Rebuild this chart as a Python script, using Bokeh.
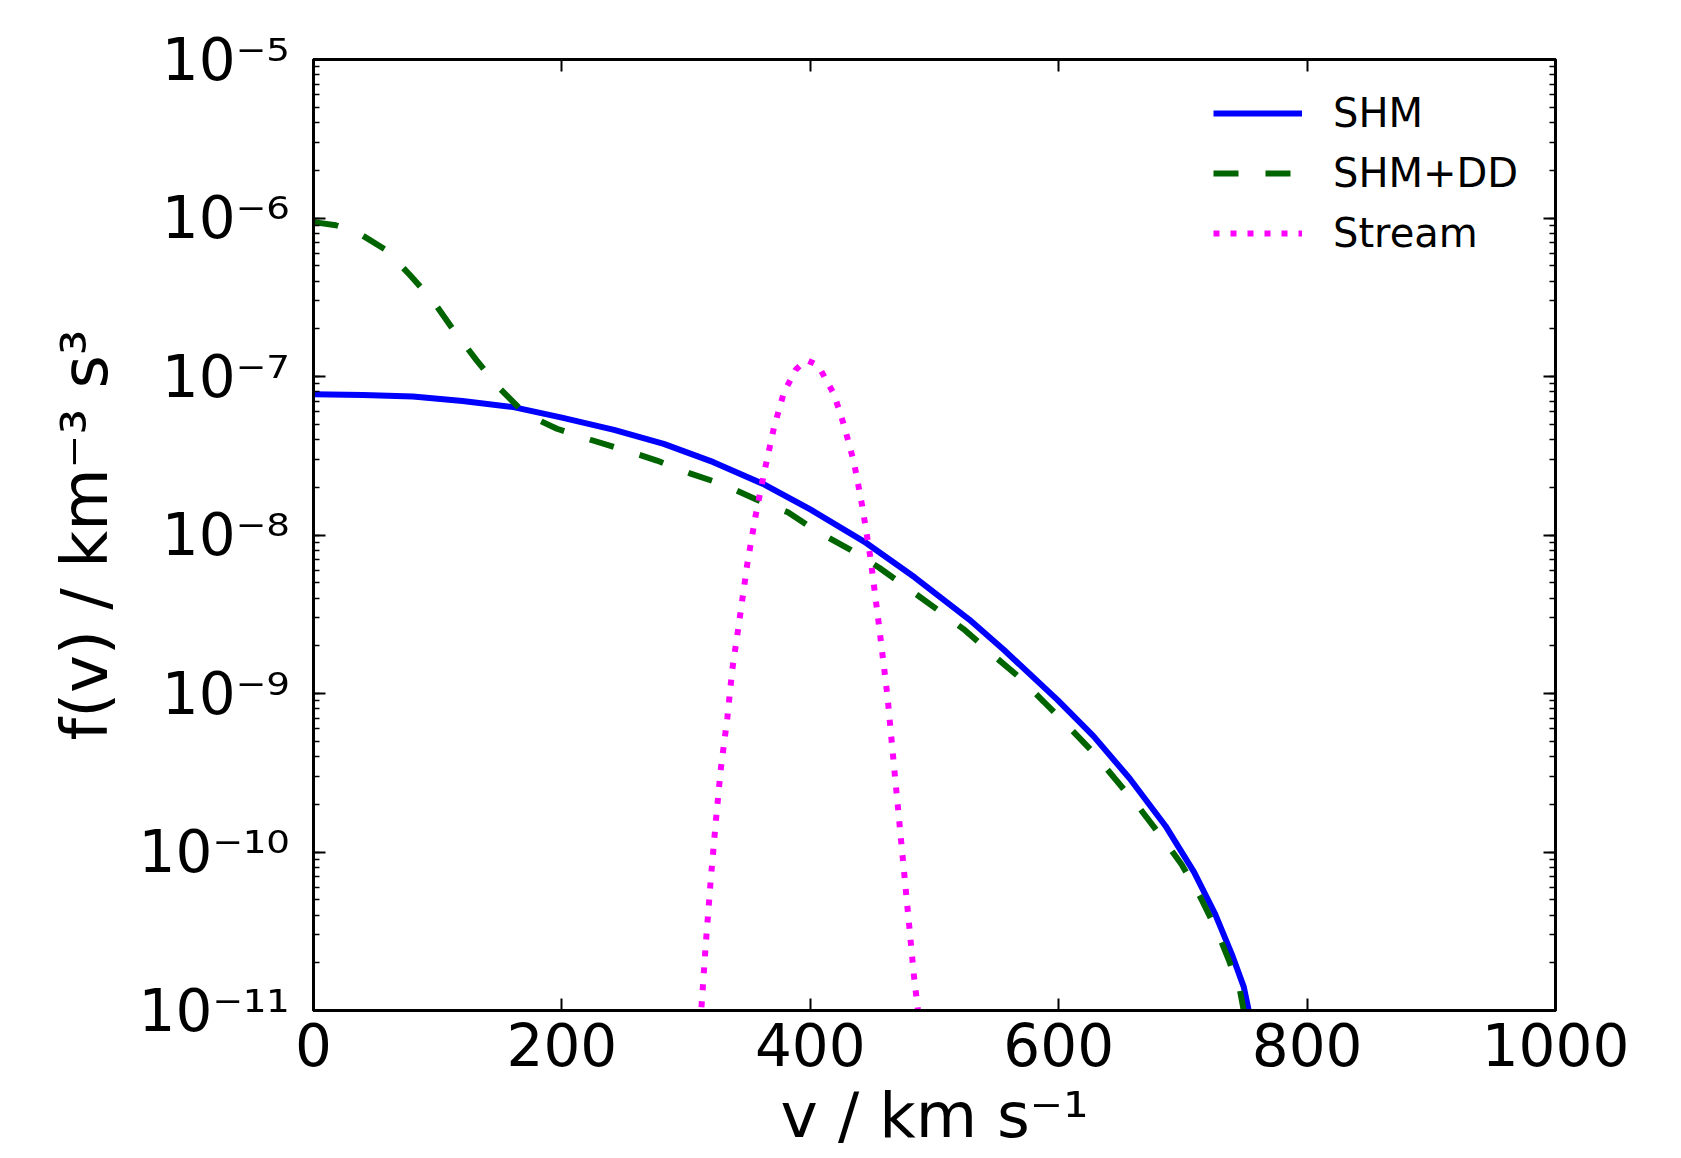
from bokeh.plotting import figure
from bokeh.models import (LogAxis, LinearAxis, FixedTicker, LogTicker,
                          Legend, LegendItem, CustomJSTickFormatter)
from bokeh.embed import file_html
from bokeh.resources import INLINE

# ---------------- data ----------------
v_shm = [0, 40, 80, 120, 161, 200, 242, 282, 322, 362, 400, 445, 484, 528,
         556, 599, 628, 657, 686, 709, 726, 740, 749, 753, 754.5]
f_shm = [7.73e-8, 7.65e-8, 7.48e-8, 7.0e-8, 6.41e-8, 5.5e-8, 4.61e-8, 3.76e-8,
         2.88e-8, 2.10e-8, 1.45e-8, 8.91e-9, 5.41e-9, 2.93e-9, 1.88e-9,
         9.12e-10, 5.38e-10, 2.92e-10, 1.46e-10, 7.46e-11, 4.06e-11, 2.20e-11,
         1.41e-11, 1.0e-11, 3e-12]

v_dd = [0, 18, 35, 59, 78, 97, 113, 131.5, 149, 170.5, 196, 223, 250, 276.5,
        303, 330, 357, 382, 404, 431, 455.5, 478.5, 501.5, 524.5, 546, 568,
        588, 608, 627, 645, 664, 681, 699, 714, 727, 737, 746, 749, 750.5]
f_dd = [9.42e-7, 9.0e-7, 8.15e-7, 6.24e-7, 4.34e-7, 2.94e-7, 1.95e-7, 1.26e-7,
        8.55e-8, 5.81e-8, 4.68e-8, 3.99e-8, 3.44e-8, 2.95e-8, 2.45e-8, 2.08e-8,
        1.67e-8, 1.39e-8, 1.07e-8, 8.18e-9, 6.21e-9, 4.62e-9, 3.42e-9, 2.51e-9,
        1.78e-9, 1.27e-9, 8.87e-10, 6.17e-10, 4.31e-10, 2.92e-10, 1.94e-10,
        1.30e-10, 8.34e-11, 5.20e-11, 3.24e-11, 2.08e-11, 1.33e-11, 1.0e-11,
        3e-12]

v_st = [311, 312.2, 315.7, 319.8, 323.8, 327.8, 333.2, 337.2, 342.6, 349.3,
        356, 362.7, 370.8, 378.8, 388.2, 393, 398, 403, 408.3, 419.1, 427.1,
        435.2, 441.9, 448.6, 455.3, 462.1, 467.4, 472.8, 478.2, 483.5, 486.7,
        488]
f_st = [5e-12, 1e-11, 2.54e-11, 6.61e-11, 1.52e-10, 3.27e-10, 7.03e-10,
        1.42e-9, 2.78e-9, 6.59e-9, 1.33e-8, 2.44e-8, 4.79e-8, 7.96e-8, 1.10e-7,
        1.20e-7, 1.26e-7, 1.21e-7, 1.10e-7, 7.73e-8, 4.93e-8, 2.87e-8, 1.51e-8,
        7.03e-9, 2.69e-9, 9.68e-10, 3.48e-10, 1.25e-10, 4.50e-11, 1.64e-11,
        1.0e-11, 5e-12]

x_ticks = [0, 200, 400, 600, 800, 1000]
y_tick_exps = [-5, -6, -7, -8, -9, -10, -11]
y_tick_labels = ["10\u207b\u2075", "10\u207b\u2076", "10\u207b\u2077",
                 "10\u207b\u2078", "10\u207b\u2079", "10\u207b\u00b9\u2070",
                 "10\u207b\u00b9\u00b9"]
series_labels = ["SHM", "SHM+DD", "Stream"]
x_title = "v / km s\u207b\u00b9"
y_title = "f(v) / km\u207b\u00b3 s\u00b3"

# ---------------- figure ----------------
W, H = 1670, 1156
p = figure(width=W, height=H, x_range=(0, 1000), y_range=(1e-11, 1e-5),
           y_axis_type="log", output_backend="svg", toolbar_location=None,
           min_border_left=313, min_border_right=W - 1555, min_border_top=59,
           min_border_bottom=H - 1010)
p.background_fill_color = "white"
p.border_fill_color = "white"
p.grid.visible = False
p.outline_line_color = "black"
p.outline_line_width = 3

def style_axis(ax, show_labels=False, minor=True):
    ax.axis_line_color = "black"
    ax.axis_line_width = 3
    ax.major_tick_in = 12
    ax.major_tick_out = 0
    ax.major_tick_line_width = 2
    ax.major_tick_line_color = "black"
    if minor:
        ax.minor_tick_in = 6
        ax.minor_tick_out = 0
        ax.minor_tick_line_width = 1.6
        ax.minor_tick_line_color = "black"
    else:
        ax.minor_tick_line_color = None
    if not show_labels:
        ax.major_label_text_color = None
        ax.major_label_text_font_size = "1px"
        ax.major_label_standoff = 0

# bottom axis
xa = p.xaxis[0]
xa.ticker = FixedTicker(ticks=x_ticks)
style_axis(xa, show_labels=True, minor=False)
xa.major_label_text_font = "DejaVu Sans"
xa.major_label_text_font_size = "58px"
xa.major_label_text_color = "black"
xa.major_label_standoff = 12
xa.axis_label = x_title
xa.axis_label_text_font = "DejaVu Sans"
xa.axis_label_text_font_size = "63px"
xa.axis_label_text_font_style = "normal"
xa.axis_label_text_color = "black"
xa.axis_label_standoff = 10

# left axis: 10^n labels with superscript exponents
ya = p.yaxis[0]
ya.ticker = LogTicker(num_minor_ticks=10)
style_axis(ya, show_labels=True, minor=True)
ya.formatter = CustomJSTickFormatter(
    args=dict(exps=y_tick_exps, labels=y_tick_labels),
    code="""
    const e = Math.round(Math.log10(tick));
    const i = exps.indexOf(e);
    return i >= 0 ? labels[i] : "";
    """)
ya.major_label_text_font = "DejaVu Sans"
ya.major_label_text_font_size = "58px"
ya.major_label_text_color = "black"
ya.major_label_standoff = 24
ya.axis_label = y_title
ya.axis_label_text_font = "DejaVu Sans"
ya.axis_label_text_font_size = "64px"
ya.axis_label_text_font_style = "normal"
ya.axis_label_text_color = "black"
ya.axis_label_standoff = 14

# top / right axes (ticks only)
top = LinearAxis(ticker=FixedTicker(ticks=x_ticks))
style_axis(top, show_labels=False, minor=False)
p.add_layout(top, "above")
right = LogAxis(ticker=LogTicker(num_minor_ticks=10))
style_axis(right, show_labels=False, minor=True)
p.add_layout(right, "right")

# ---------------- lines ----------------
r1 = p.line(v_shm, f_shm, line_color="#0000ff", line_width=6)
r2 = p.line(v_dd, f_dd, line_color="#006400", line_width=6, line_dash="25 27")
r3 = p.line(v_st, f_st, line_color="#ff00ff", line_width=6, line_dash="6 11")

legend = Legend(items=[LegendItem(label=series_labels[0], renderers=[r1]),
                       LegendItem(label=series_labels[1], renderers=[r2]),
                       LegendItem(label=series_labels[2], renderers=[r3])],
                location="top_right")
legend.border_line_color = None
legend.background_fill_alpha = 0
legend.label_text_font = "DejaVu Sans"
legend.label_text_font_size = "40px"
legend.label_text_color = "black"
legend.glyph_width = 89
legend.glyph_height = 50
legend.label_height = 50
legend.label_width = 193
legend.label_standoff = 31
legend.spacing = 10
legend.padding = 10
legend.margin = 29
p.add_layout(legend)

open("out.html", "w").write(file_html(p, INLINE))
